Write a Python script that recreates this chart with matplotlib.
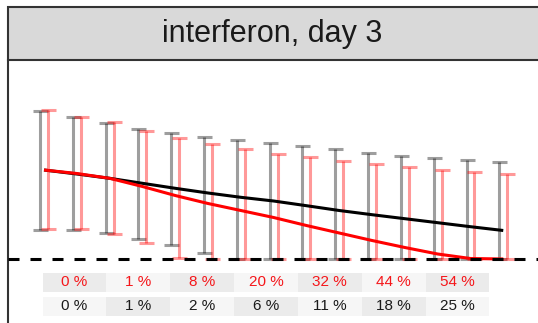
import matplotlib
matplotlib.use('Agg')
import matplotlib.pyplot as plt
from matplotlib.patches import Rectangle
import numpy as np

plt.rcParams['font.family'] = ['Liberation Sans', 'DejaVu Sans']

# time points
t = np.arange(15)

# interval limits, grey = untreated, red = interferon
grey_hi = [1.48, 1.417, 1.357, 1.303, 1.257, 1.221, 1.187, 1.157, 1.13, 1.097, 1.062, 1.033, 1.01, 0.99, 0.97]
grey_lo = [0.293, 0.293, 0.26, 0.203, 0.137, 0.057, 0, 0, 0, 0, 0, 0, 0, 0, 0]
red_hi = [1.493, 1.423, 1.367, 1.283, 1.21, 1.148, 1.097, 1.053, 1.017, 0.98, 0.95, 0.92, 0.893, 0.867, 0.847]
red_lo = [0.303, 0.297, 0.25, 0.157, 0.013, 0, 0, 0, 0, 0, 0, 0, 0, 0, 0]

# mean curves
black_mean = [0.89, 0.85, 0.807, 0.757, 0.707, 0.66, 0.617, 0.58, 0.533, 0.485, 0.443, 0.403, 0.363, 0.323, 0.285]
red_mean = [0.89, 0.855, 0.807, 0.725, 0.635, 0.555, 0.485, 0.415, 0.335, 0.26, 0.185, 0.115, 0.05, 0.005, 0]

# table below the panel
red_pct = ['0 %', '1 %', '8 %', '20 %', '32 %', '44 %', '54 %']
black_pct = ['0 %', '1 %', '2 %', '6 %', '11 %', '18 %', '25 %']

W, H = 538, 323
fig = plt.figure(figsize=(W / 100, H / 100), dpi=100)

# panel axes, runs past the right and bottom edge
ax = fig.add_axes([8 / W, 0, 552 / W, 263 / H])
ax.set_xlim(-1.0976, 15.73)
ax.set_ylim(-0.64, 1.99)
ax.set_xticks([])
ax.set_yticks([])
for s in ['top', 'right', 'bottom']:
    ax.spines[s].set_visible(False)
ax.spines['left'].set_color('#333333')
ax.spines['left'].set_linewidth(1.5)

def bars(x, lo, hi, col, alpha):
    lo = np.array(lo)
    hi = np.array(hi)
    mid = (lo + hi) / 2
    ax.errorbar(x, mid, yerr=[mid - lo, hi - mid], fmt='none', ecolor=col,
                alpha=alpha, elinewidth=2.2, capsize=5.4, capthick=2.2)

bars(t - 0.12, grey_lo, grey_hi, 'black', 0.38)
bars(t + 0.12, red_lo, red_hi, 'red', 0.4)

ax.plot(t, black_mean, color='black', lw=2.2, solid_capstyle='butt')
ax.plot(t, red_mean, color='red', lw=2.2, solid_capstyle='butt')

ax.axhline(0, color='black', lw=2.2, dashes=(3.6, 3.6), zorder=5)

# percentage table
cw = 1.945
x0 = -0.04
for k in range(len(red_pct)):
    for r, (labels, col) in enumerate([(red_pct, '#F5161A'), (black_pct, '#1A1A1A')]):
        y_top = -0.137 - r * 0.24
        shade = '#EBEBEB' if (k + r) % 2 == 0 else '#F6F6F6'
        ax.add_patch(Rectangle((x0 + k * cw, y_top - 0.19), cw, 0.19,
                               facecolor=shade, edgecolor='none'))
        ax.text(x0 + (k + 0.5) * cw, y_top - 0.095, labels[k], color=col,
                fontsize=11, ha='center', va='center')

# facet strip
fig.patches.append(Rectangle((8 / W, 1 - 60 / H), 552 / W, 53 / H,
                             transform=fig.transFigure, facecolor='#D9D9D9',
                             edgecolor='#333333', lw=1.5))
fig.text(272 / W, 1 - 34 / H, 'interferon, day 3', fontsize=22,
         color='#1A1A1A', ha='center', va='center')

fig.savefig('out.png', dpi=100)
